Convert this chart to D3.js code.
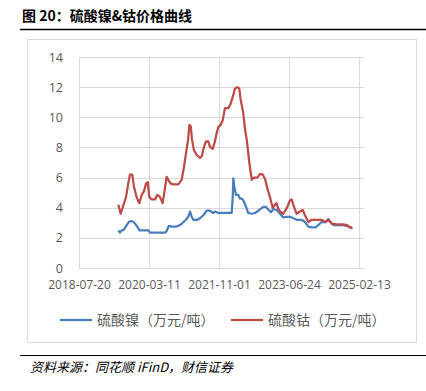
<!DOCTYPE html>
<html>
<head>
<meta charset="utf-8">
<script src="https://cdn.jsdelivr.net/npm/d3@7"></script>
<style>
  body { margin: 0; background: #fff; }
  svg { display: block; }
</style>
</head>
<body>
<div id="chart"></div>
<script>
// Data (万元/吨)
const nickelDates = [
  "2019-06-22", "2019-07-06", "2019-07-21", "2019-08-09", "2019-09-02", "2019-09-24",
  "2019-10-23", "2019-11-12", "2019-12-01", "2019-12-19", "2020-01-22", "2020-03-05",
  "2020-03-20", "2020-05-16", "2020-07-26", "2020-08-09", "2020-08-29", "2020-09-21",
  "2020-11-03", "2020-12-01", "2020-12-25", "2021-01-22", "2021-02-11", "2021-02-26",
  "2021-03-12", "2021-03-26", "2021-04-29", "2021-05-22", "2021-06-20", "2021-07-18",
  "2021-08-15", "2021-09-13", "2021-09-27", "2021-10-26", "2021-11-24", "2022-01-06",
  "2022-02-18", "2022-02-27", "2022-03-04", "2022-03-12", "2022-03-27", "2022-04-16",
  "2022-04-30", "2022-05-15", "2022-05-28", "2022-06-21", "2022-07-10", "2022-08-09",
  "2022-09-06", "2022-10-13", "2022-11-16", "2022-12-09", "2022-12-28", "2023-01-20",
  "2023-02-09", "2023-03-11", "2023-04-08", "2023-05-06", "2023-06-04", "2023-07-03",
  "2023-07-31", "2023-08-29", "2023-10-11", "2023-11-08", "2023-12-07", "2024-01-04",
  "2024-02-10", "2024-03-01", "2024-03-30", "2024-05-06", "2024-05-26", "2024-06-14",
  "2024-07-08", "2024-08-06", "2024-10-02", "2024-10-31", "2024-11-28", "2024-12-18"
];
const nickelValues = [
  2.5, 2.35, 2.5, 2.55, 2.85, 3.1,
  3.1, 2.95, 2.75, 2.5, 2.5, 2.5,
  2.35, 2.35, 2.35, 2.45, 2.8, 2.75,
  2.75, 2.85, 3.0, 3.2, 3.4, 3.75,
  3.4, 3.2, 3.2, 3.3, 3.5, 3.8,
  3.8, 3.65, 3.75, 3.65, 3.65, 3.65,
  3.65, 4.7, 5.95, 5.4, 4.85, 4.85,
  4.6, 4.6, 4.5, 4.05, 3.65, 3.6,
  3.65, 3.85, 4.05, 4.05, 3.88, 3.7,
  3.9, 3.85, 3.6, 3.35, 3.4, 3.4,
  3.3, 3.2, 3.2, 3.05, 2.75, 2.7,
  2.7, 2.85, 3.05, 3.05, 3.25, 3.05,
  2.85, 2.85, 2.85, 2.8, 2.7, 2.65
];

const cobaltDates = [
  "2019-06-22", "2019-07-12", "2019-07-29", "2019-08-27", "2019-09-15", "2019-09-30",
  "2019-10-20", "2019-11-03", "2019-11-26", "2019-12-19", "2020-01-09", "2020-01-28",
  "2020-02-15", "2020-02-29", "2020-03-14", "2020-04-03", "2020-05-02", "2020-05-21",
  "2020-06-14", "2020-07-06", "2020-07-26", "2020-08-09", "2020-08-23", "2020-09-13",
  "2020-10-05", "2020-11-17", "2020-12-16", "2021-01-05", "2021-01-22", "2021-02-09",
  "2021-02-20", "2021-03-04", "2021-03-15", "2021-04-01", "2021-04-24", "2021-05-22",
  "2021-06-06", "2021-06-26", "2021-07-12", "2021-08-01", "2021-08-15", "2021-09-08",
  "2021-09-27", "2021-10-12", "2021-10-26", "2021-11-16", "2021-12-03", "2021-12-22",
  "2022-01-20", "2022-02-09", "2022-02-27", "2022-03-18", "2022-04-07", "2022-04-24",
  "2022-05-06", "2022-05-28", "2022-06-12", "2022-06-27", "2022-07-19", "2022-08-09",
  "2022-08-28", "2022-09-26", "2022-10-19", "2022-11-11", "2022-12-01", "2022-12-20",
  "2023-01-12", "2023-02-04", "2023-02-24", "2023-03-10", "2023-03-24", "2023-04-08",
  "2023-05-06", "2023-06-04", "2023-07-03", "2023-07-17", "2023-08-06", "2023-08-29",
  "2023-09-26", "2023-10-20", "2023-11-08", "2023-12-07", "2024-01-04", "2024-02-16",
  "2024-03-30", "2024-04-27", "2024-05-26", "2024-06-24", "2024-08-06", "2024-10-02",
  "2024-10-31", "2024-11-28", "2024-12-18"
];
const cobaltValues = [
  4.2, 3.6, 4.0, 4.7, 5.6, 6.2,
  6.2, 5.4, 4.7, 4.3, 4.85, 5.1,
  5.6, 5.7, 4.7, 4.55, 4.55, 4.85,
  4.7, 4.3, 5.3, 6.05, 5.85, 5.6,
  5.55, 5.55, 5.85, 6.7, 7.6, 8.5,
  9.5, 9.4, 8.5, 7.8, 7.5, 7.3,
  7.4, 8.05, 8.4, 8.4, 8.05, 7.9,
  8.4, 8.95, 9.35, 9.5, 9.8, 10.6,
  10.6, 10.9, 11.35, 11.9, 12.0, 11.9,
  11.15, 10.3, 9.2, 8.5, 7.0, 5.85,
  6.0, 6.0, 6.25, 6.2, 5.9, 5.3,
  4.7, 4.0, 4.2, 4.3, 3.95, 3.75,
  3.6, 3.95, 4.5, 4.55, 4.05, 3.6,
  3.75, 3.85, 3.5, 3.05, 3.2, 3.2,
  3.2, 3.05, 3.2, 2.95, 2.9, 2.9,
  2.85, 2.7, 2.65
];

const seriesNames = ["硫酸镍（万元/吨）", "硫酸钴（万元/吨）"];
const seriesColors = ["#4a7ebb", "#be4b48"];
const yTicks = [0, 2, 4, 6, 8, 10, 12, 14];
const xTickLabels = ["2018-07-20", "2020-03-11", "2021-11-01", "2023-06-24", "2025-02-13"];
const xEnd = "2025-03-28";

const W = 426, H = 391;
const parse = d3.utcParse("%Y-%m-%d");

const svg = d3.select("#chart").append("svg")
  .attr("width", W)
  .attr("height", H);

svg.append("rect").attr("width", W).attr("height", H).attr("fill", "#fff");

// Title + rules
svg.append("text")
  .attr("x", 22)
  .attr("y", 21)
  .attr("font-family", "Noto Sans CJK SC")
  .attr("font-weight", "bold")
  .attr("font-size", 14)
  .attr("fill", "#000")
  .text("图 20：硫酸镍&钴价格曲线");

svg.append("line")
  .attr("x1", 20).attr("x2", 426).attr("y1", 29.5).attr("y2", 29.5)
  .attr("stroke", "#000").attr("stroke-width", 1.5);

// chart frame
svg.append("rect")
  .attr("x", 27.5).attr("y", 39.5)
  .attr("width", 389).attr("height", 303)
  .attr("fill", "#fff")
  .attr("stroke", "#d9d9d9");

// Scales
const x = d3.scaleUtc()
  .domain([parse(xTickLabels[0]), parse(xEnd)])
  .range([79, 364]);
const y = d3.scaleLinear().domain([0, 14]).range([268, 57]);

const grid = svg.append("g").attr("stroke", "#d9d9d9").attr("stroke-width", 1);

// horizontal gridlines
grid.selectAll(".hg")
  .data(yTicks)
  .enter()
  .append("line")
  .attr("x1", x.range()[0])
  .attr("x2", x.range()[1])
  .attr("y1", d => Math.round(y(d)) + 0.5)
  .attr("y2", d => Math.round(y(d)) + 0.5);

// vertical gridlines at the date ticks
grid.selectAll(".vg")
  .data(xTickLabels)
  .enter()
  .append("line")
  .attr("x1", d => Math.round(x(parse(d))) + 0.5)
  .attr("x2", d => Math.round(x(parse(d))) + 0.5)
  .attr("y1", y(14))
  .attr("y2", y(0));

// Y axis labels
const yAxis = d3.axisLeft(y).tickValues(yTicks).tickSize(0).tickPadding(16);
svg.append("g")
  .attr("transform", "translate(79,0)")
  .call(yAxis)
  .call(g => g.select(".domain").remove())
  .call(g => g.selectAll("text")
    .attr("font-family", "Open Sans")
    .attr("font-size", 12.5)
    .attr("fill", "#595959"));

// X axis labels
const xAxis = d3.axisBottom(x)
  .tickValues(xTickLabels.map(parse))
  .tickFormat(d3.utcFormat("%Y-%m-%d"))
  .tickSize(0)
  .tickPadding(12);
svg.append("g")
  .attr("transform", "translate(0,268)")
  .call(xAxis)
  .call(g => g.select(".domain").remove())
  .call(g => g.selectAll("text")
    .attr("font-family", "Open Sans")
    .attr("font-size", 12)
    .attr("fill", "#595959"));

// Lines
const line = d3.line()
  .x(d => x(d.date))
  .y(d => y(d.value));

const series = [
  nickelDates.map((d, i) => ({ date: parse(d), value: nickelValues[i] })),
  cobaltDates.map((d, i) => ({ date: parse(d), value: cobaltValues[i] }))
];

svg.selectAll(".series")
  .data(series)
  .enter()
  .append("path")
  .attr("class", "series")
  .attr("fill", "none")
  .attr("stroke", (d, i) => seriesColors[i])
  .attr("stroke-width", 2.25)
  .attr("stroke-linejoin", "round")
  .attr("d", line);

// Legend
const legendX = [60, 231];
const lg = svg.selectAll(".legend")
  .data(seriesNames)
  .enter()
  .append("g")
  .attr("transform", (d, i) => "translate(" + legendX[i] + ",320)");

lg.append("line")
  .attr("x1", 0).attr("x2", 32)
  .attr("stroke", (d, i) => seriesColors[i])
  .attr("stroke-width", 2.25);

lg.append("text")
  .attr("x", 37)
  .attr("dy", "0.35em")
  .attr("font-family", "Noto Sans CJK SC")
  .attr("font-size", 14)
  .attr("fill", "#595959")
  .text(d => d);

// Source
svg.append("line")
  .attr("x1", 20).attr("x2", 426).attr("y1", 355.5).attr("y2", 355.5)
  .attr("stroke", "#000").attr("stroke-width", 1.2);

svg.append("text")
  .attr("x", 30)
  .attr("y", 372)
  .attr("font-family", "Noto Sans CJK SC")
  .attr("font-style", "italic")
  .attr("font-size", 13)
  .attr("fill", "#000")
  .text("资料来源：同花顺 iFinD，财信证券");
</script>
</body>
</html>
